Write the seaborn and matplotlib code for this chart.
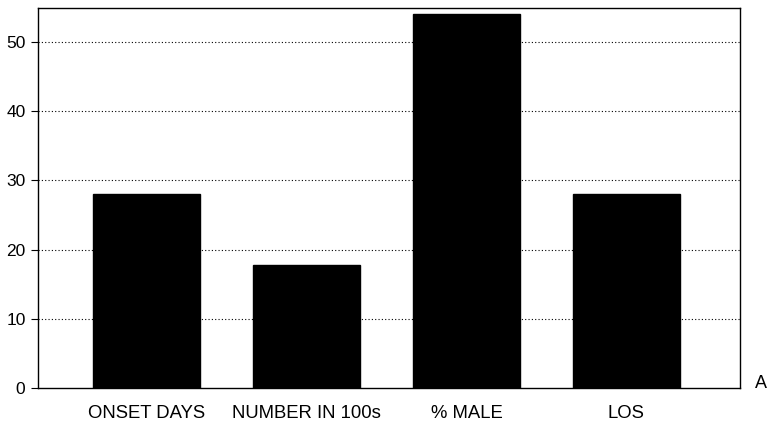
import matplotlib
matplotlib.use("Agg")
import matplotlib.pyplot as plt
import seaborn as sns
import pandas as pd

categories = ["ONSET DAYS", "NUMBER IN 100s", "% MALE", "LOS"]
values = [28.0, 17.8, 54.0, 28.0]
y_ticks = [0, 10, 20, 30, 40, 50]

sns.set_theme(style="white")
plt.rcParams["font.family"] = ["Liberation Sans", "DejaVu Sans"]

df = pd.DataFrame({"category": categories, "value": values})

fig = plt.figure(figsize=(7.74, 4.26), dpi=100)
ax = fig.add_axes([38 / 774, 1 - 388 / 426, 702 / 774, 380 / 426])

sns.barplot(data=df, x="category", y="value", color="black", width=0.67,
            saturation=1, ax=ax, zorder=3)
for p in ax.patches:
    p.set_edgecolor("black")

ax.set_xlim(-0.678, 3.71)
ax.set_ylim(0, 54.9)
ax.set_yticks(y_ticks)
ax.set_xlabel("")
ax.set_ylabel("")

for y in y_ticks[1:]:
    ax.axhline(y, color="black", linestyle=(0, (1, 2)), linewidth=0.8, zorder=1)

for s in ax.spines.values():
    s.set_color("black")
    s.set_linewidth(1.0)

ax.tick_params(axis="y", which="both", left=True, length=5, width=0.8,
               color="black", labelsize=12.5, pad=4, labelcolor="black")
ax.tick_params(axis="x", bottom=False, labelsize=13.3, pad=12, labelcolor="black")
for lbl in ax.get_xticklabels():
    lbl.set_verticalalignment("center")

fig.text(755 / 774, 1 - 384 / 426, "A", fontsize=13, ha="left", va="center",
         color="black")

fig.savefig("out.png", dpi=100, facecolor="white")
